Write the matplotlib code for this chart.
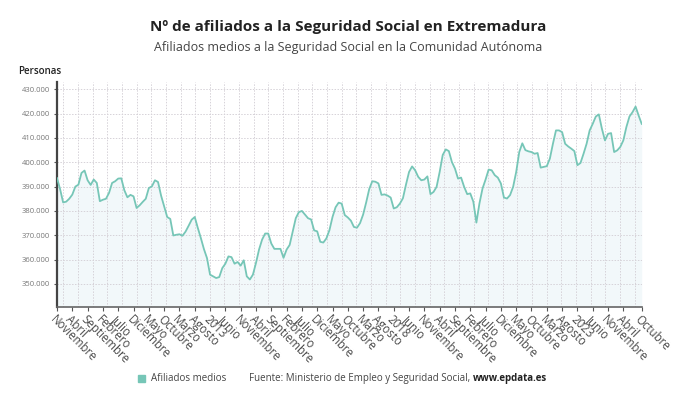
import matplotlib
matplotlib.use("Agg")
import matplotlib.pyplot as plt
import numpy as np
from matplotlib.ticker import FuncFormatter

plt.rcParams['font.family'] = ['Open Sans', 'DejaVu Sans']

# Monthly average affiliates, Nov 2008 .. Oct 2024 (thousands)
afiliados_k = [
    393.5, 389.0,                                                         # Nov-Dec 2008
    383.5, 383.8, 385.0, 386.7, 390.0, 390.8, 395.6, 396.6, 392.6, 390.7, 392.9, 391.5,  # 2009
    384.0, 384.6, 385.0, 387.4, 391.5, 392.2, 393.3, 393.4, 388.5, 385.6, 386.6, 386.0,  # 2010
    381.2, 382.3, 383.7, 385.0, 389.4, 390.1, 392.6, 391.9, 386.3, 381.9, 377.5, 376.7,  # 2011
    369.9, 370.2, 370.4, 369.8, 371.5, 373.9, 376.4, 377.5, 373.0, 368.8, 364.3, 360.6,  # 2012
    353.8, 353.1, 352.4, 352.8, 356.5, 358.3, 361.3, 361.0, 358.3, 359.0, 357.5, 359.7,  # 2013
    353.1, 351.8, 353.8, 358.6, 364.1, 368.2, 370.7, 370.7, 366.6, 364.4, 364.4, 364.4,  # 2014
    360.7, 364.1, 366.0, 371.5, 377.0, 379.5, 380.0, 378.5, 377.0, 376.5, 372.0, 371.6,  # 2015
    367.3, 367.0, 368.7, 372.1, 377.5, 381.5, 383.4, 383.0, 378.3, 377.3, 376.0, 373.4,  # 2016
    373.1, 375.0, 378.5, 383.5, 389.0, 392.2, 392.0, 391.3, 386.6, 386.8, 386.3, 385.5,  # 2017
    381.0, 381.5, 383.0, 385.2, 390.8, 396.0, 398.3, 396.7, 394.0, 392.6, 392.9, 394.2,  # 2018
    386.9, 387.8, 389.9, 396.0, 403.0, 405.3, 404.6, 400.1, 397.4, 393.3, 393.7, 389.9,  # 2019
    386.9, 387.2, 383.8, 375.2, 383.1, 389.2, 392.9, 397.0, 396.7, 394.7, 393.7, 391.3,  # 2020
    385.5, 385.1, 386.5, 389.9, 396.0, 404.2, 407.8, 405.0, 404.5, 404.2, 403.5, 403.8,  # 2021
    397.8, 398.1, 398.4, 401.5, 407.6, 413.1, 413.1, 412.4, 407.6, 406.5, 405.6, 404.6,  # 2022
    398.8, 399.7, 403.5, 407.6, 413.1, 415.8, 418.8, 419.7, 413.8, 409.0, 411.7, 412.0,  # 2023
    404.2, 404.9, 406.3, 409.0, 414.5, 418.8, 420.6, 422.9, 419.2, 415.8,                # 2024
]
afiliados = np.array(afiliados_k) * 1000

tick_labels = ["Noviembre", "Abril", "Septiembre", "Febrero", "Julio", "Diciembre",
               "Mayo", "Octubre", "Marzo", "Agosto", "2013", "Junio", "Noviembre",
               "Abril", "Septiembre", "Febrero", "Julio", "Diciembre", "Mayo",
               "Octubre", "Marzo", "Agosto", "2018", "Junio", "Noviembre", "Abril",
               "Septiembre", "Febrero", "Julio", "Diciembre", "Mayo", "Octubre",
               "Marzo", "Agosto", "2023", "Junio", "Noviembre", "Abril", "Octubre"]
y_ticks = [350000, 360000, 370000, 380000, 390000, 400000, 410000, 420000, 430000]

line_color = "#76c6b7"
n = len(afiliados)
x = np.arange(n)
tick_pos = list(range(0, 5 * (len(tick_labels) - 1), 5)) + [n - 1]

fig = plt.figure(figsize=(6.9, 4.05), dpi=100)
ax = fig.add_axes([0.0826, 0.242, 0.8474, 0.5555])

ymin, ymax = 340500, 433000
ax.fill_between(x, afiliados, ymin, color="#eaf4f7", alpha=0.6, lw=0, zorder=1)
ax.plot(x, afiliados, color=line_color, lw=1.3, zorder=3, solid_joinstyle='round')

ax.set_xlim(0, n - 1)
ax.set_ylim(ymin, ymax)

# grid
for k in range(40):
    ax.axvline(2.06 + 4.786 * k, color="#d6d2d8", lw=0.7, ls=(0, (1.5, 1.5)), zorder=2)
for v in y_ticks:
    ax.axhline(v, color="#d6d2d8", lw=0.7, ls=(0, (1.5, 1.5)), zorder=2)

ax.set_yticks(y_ticks)
ax.yaxis.set_major_formatter(FuncFormatter(lambda v, p: f"{int(v):,}".replace(",", ".")))
ax.tick_params(axis='y', labelsize=5.5, labelcolor="#777777", length=2, width=0.8,
               color="#555555", pad=3)

ax.set_xticks(tick_pos)
ax.set_xticklabels(tick_labels, rotation=-45, ha='left', va='top',
                   rotation_mode='anchor', fontsize=8.3, color="#4a4a4a")
ax.tick_params(axis='x', length=3, width=0.8, color="#555555", pad=1.5)

for s in ["top", "right"]:
    ax.spines[s].set_visible(False)
ax.spines["left"].set_color("#444444")
ax.spines["left"].set_linewidth(1.6)
ax.spines["bottom"].set_color("#666666")
ax.spines["bottom"].set_linewidth(1.2)

fig.text(0.505, 1 - 27 / 405, "Nº de afiliados a la Seguridad Social en Extremadura",
         ha='center', va='center', fontsize=11, fontweight='bold', color="#222222")
fig.text(0.505, 1 - 48 / 405, "Afiliados medios a la Seguridad Social en la Comunidad Autónoma",
         ha='center', va='center', fontsize=9, color="#444444")
fig.text(18 / 690, 1 - 71 / 405, "Personas", ha='left', va='center', fontsize=7,
         fontweight='semibold', color="#222222")

# legend / source
fig.patches.append(plt.Rectangle((138 / 690, 1 - 382 / 405), 7 / 690, 7 / 405,
                                 transform=fig.transFigure, color=line_color, figure=fig))
fig.text(151 / 690, 1 - 378.5 / 405, "Afiliados medios", ha='left', va='center',
         fontsize=7, color="#444444")
t1 = fig.text(249 / 690, 1 - 378.5 / 405,
              "Fuente: Ministerio de Empleo y Seguridad Social, ",
              ha='left', va='center', fontsize=7, color="#444444")
fig.canvas.draw()
bb = t1.get_window_extent()
fig.text(bb.x1 / fig.bbox.width, 1 - 378.5 / 405, "www.epdata.es", ha='left', va='center',
         fontsize=7, fontweight='bold', color="#222222")

fig.savefig("out.png", dpi=100, facecolor="white")
